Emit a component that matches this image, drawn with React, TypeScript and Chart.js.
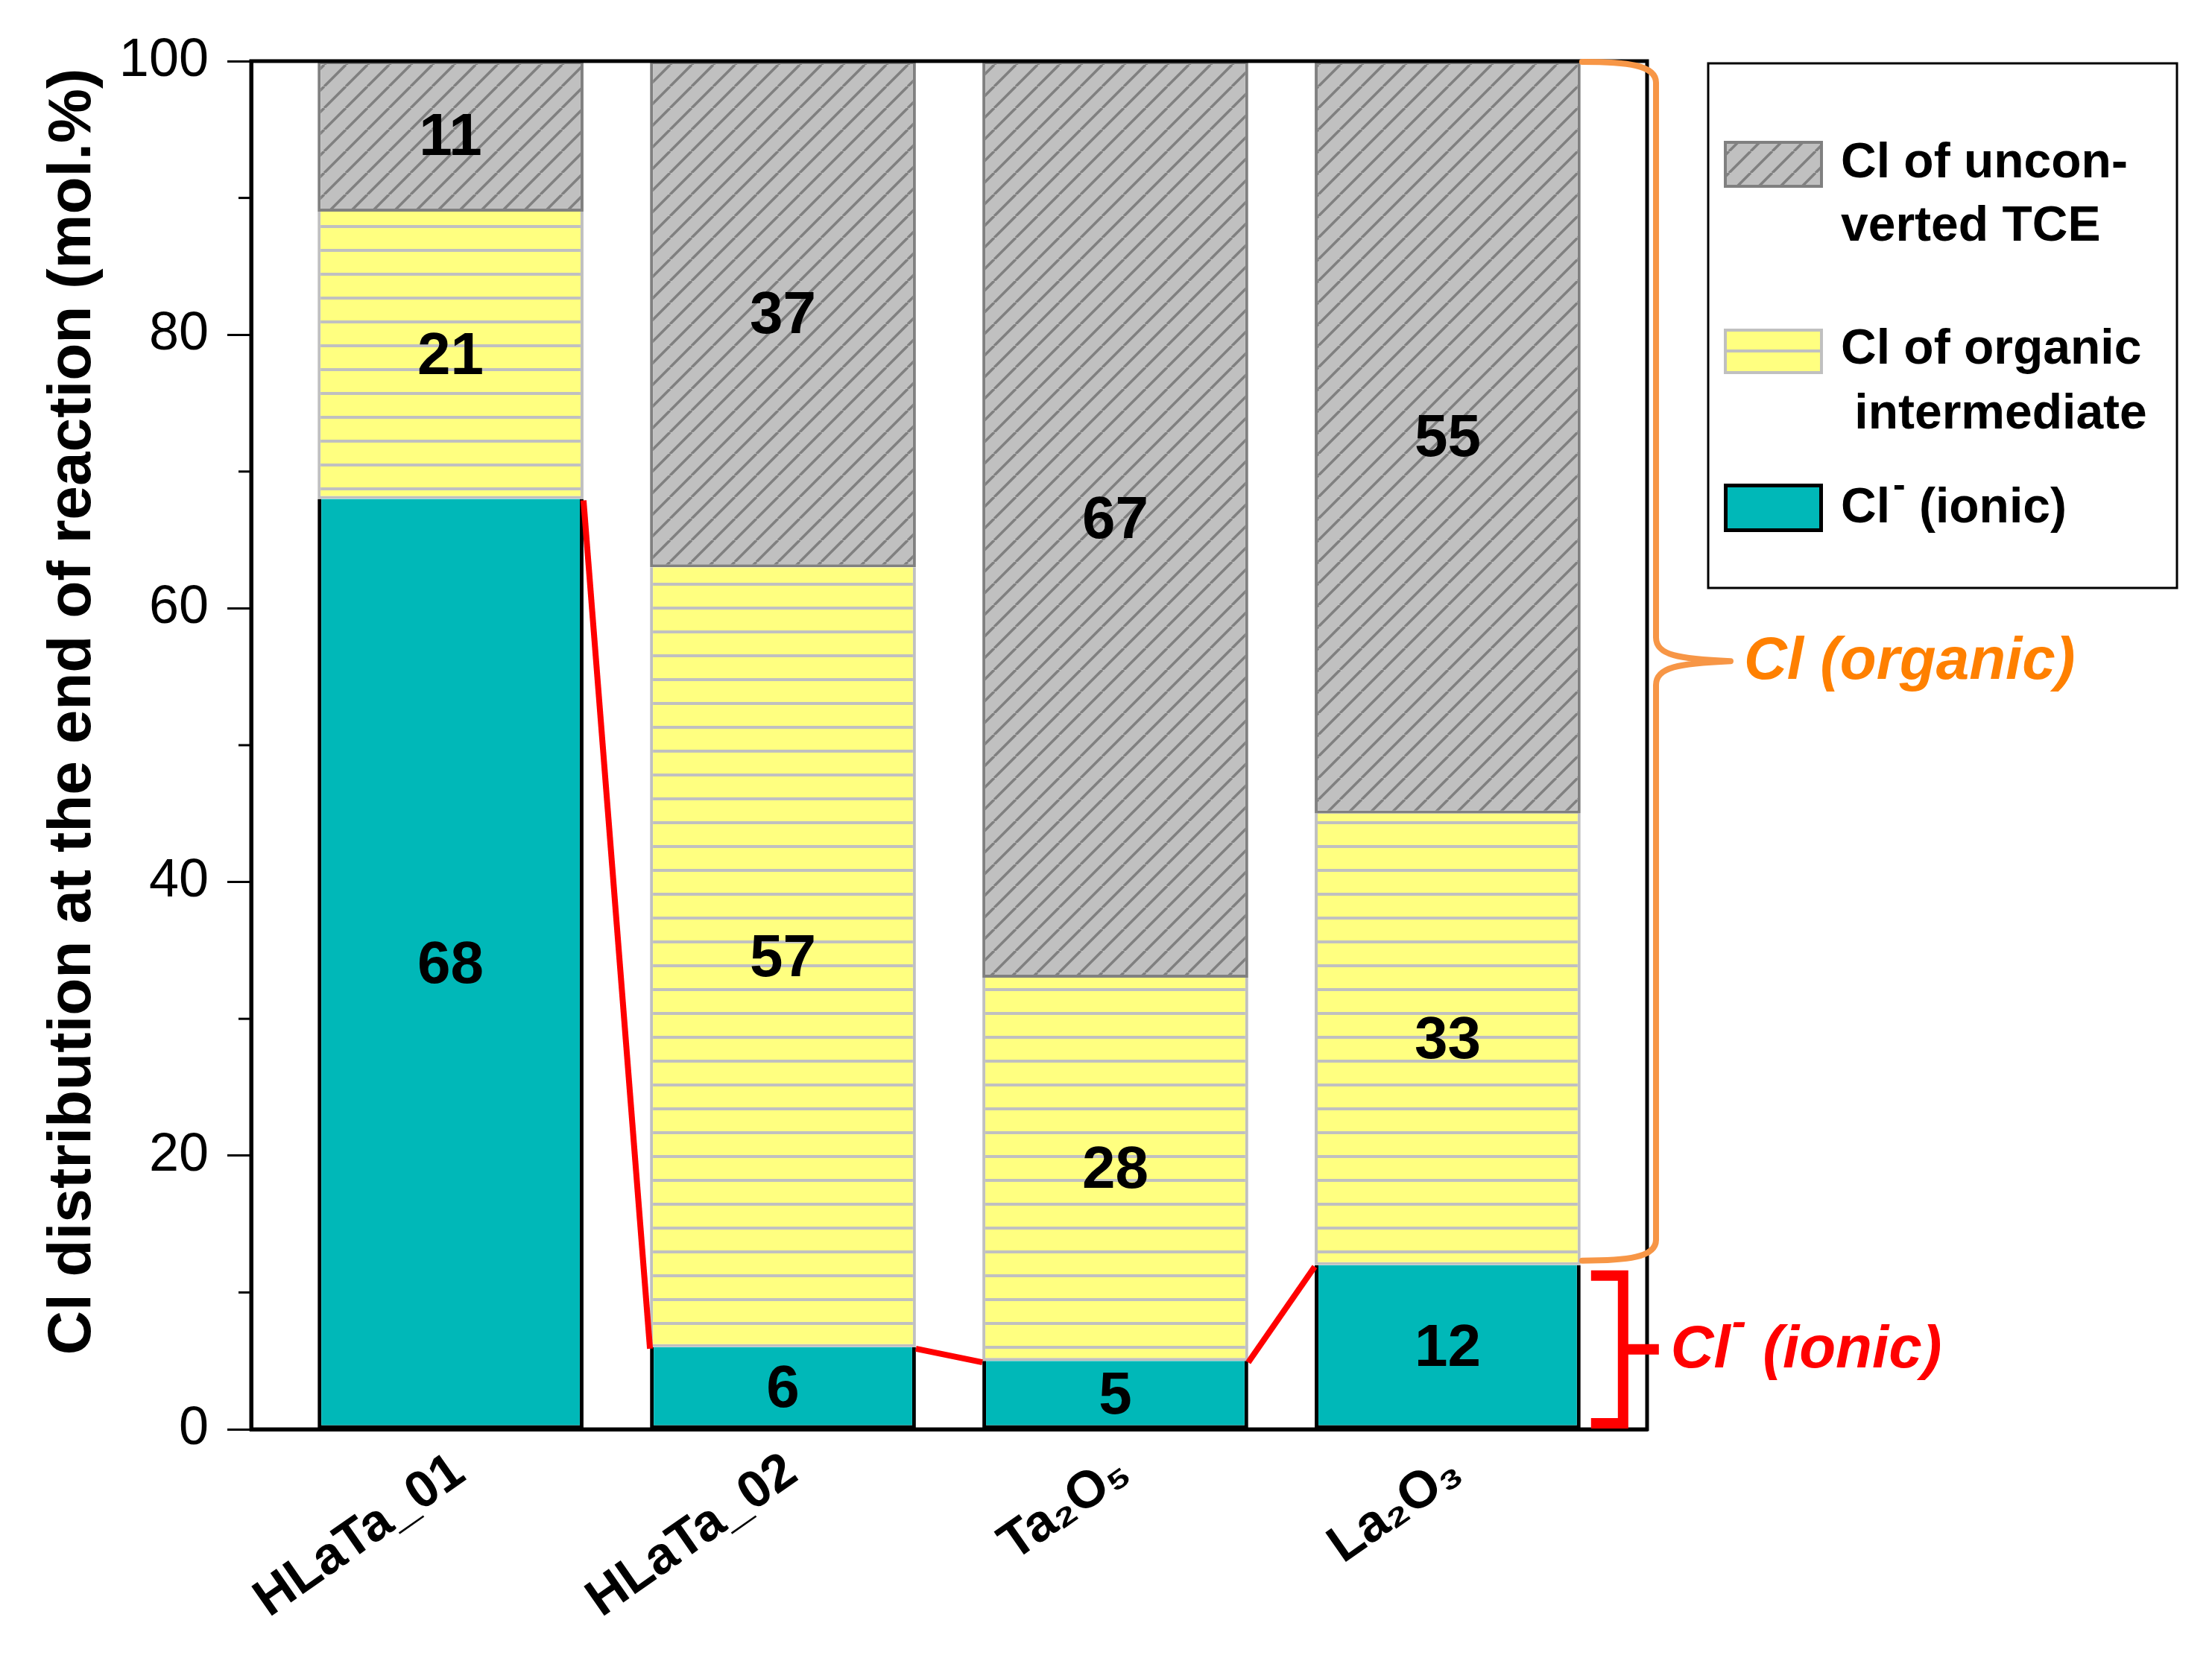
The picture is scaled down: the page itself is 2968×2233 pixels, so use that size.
import React, { useEffect, useRef } from 'react';
import { Chart, registerables } from 'chart.js';

Chart.register(...registerables);

// ---------------- data ----------------
const categories = ['HLaTa_01', 'HLaTa_02', 'Ta₂O₅', 'La₂O₃'];
const ionicCl = [68, 6, 5, 12];
const organicIntermediateCl = [21, 57, 28, 33];
const unconvertedTceCl = [11, 37, 67, 55];
const seriesLabels = ['Cl- (ionic)', 'Cl of organic intermediate', 'Cl of unconverted TCE'];
const yMin = 0;
const yMax = 100;
const yMajorStep = 20;
const yMinorStep = 10;
const yTitle = 'Cl distribution at the end of reaction (mol.%)';
const legendUnconvertedLines = ['Cl of uncon-', 'verted TCE'];
const legendOrganicLines = ['Cl of organic', ' intermediate'];
const legendIonicBase = 'Cl';
const legendIonicSup = '-';
const legendIonicRest = ' (ionic)';
const braceOrganicText = 'Cl (organic)';
const bracketIonicBase = 'Cl';
const bracketIonicSup = '-';
const bracketIonicRest = ' (ionic)';

// ---------------- style ----------------
const W = 2968;
const H = 2233;
const FONT = '"Liberation Sans", Arial, Helvetica, sans-serif';
const TEAL = '#00B8B8';
const YELLOW = '#FFFF80';
const LIGHT_GRAY = '#C0C0C0';
const MID_GRAY = '#808080';
const RED = '#FF0000';
const ORANGE_BRACE = '#F79646';
const ORANGE_TEXT = '#FF8000';

function makeDiagonalPattern(): CanvasPattern | string {
  const s = 29;
  const c = document.createElement('canvas');
  c.width = s;
  c.height = s;
  const g = c.getContext('2d');
  if (!g) return LIGHT_GRAY;
  g.fillStyle = LIGHT_GRAY;
  g.fillRect(0, 0, s, s);
  g.strokeStyle = MID_GRAY;
  g.lineWidth = 3.6;
  g.beginPath();
  for (let k = -1; k <= 1; k++) {
    g.moveTo(k * s, s);
    g.lineTo(k * s + s, 0);
  }
  g.stroke();
  const p = g.createPattern(c, 'repeat');
  return p || LIGHT_GRAY;
}

function makeHorizontalPattern(): CanvasPattern | string {
  const w = 8;
  const h = 32;
  const c = document.createElement('canvas');
  c.width = w;
  c.height = h;
  const g = c.getContext('2d');
  if (!g) return YELLOW;
  g.fillStyle = YELLOW;
  g.fillRect(0, 0, w, h);
  g.fillStyle = LIGHT_GRAY;
  g.fillRect(0, 14, w, 4);
  const p = g.createPattern(c, 'repeat');
  return p || YELLOW;
}

function drawSupText(
  ctx: CanvasRenderingContext2D,
  x: number,
  y: number,
  base: string,
  sup: string,
  rest: string,
  font: string,
  supFont: string,
  rise: number,
  supGap: number
) {
  ctx.textAlign = 'left';
  ctx.textBaseline = 'middle';
  ctx.font = font;
  ctx.fillText(base, x, y);
  let w = ctx.measureText(base).width + supGap;
  ctx.font = supFont;
  ctx.fillText(sup, x + w, y - rise);
  w += ctx.measureText(sup).width;
  ctx.font = font;
  ctx.fillText(rest, x + w, y);
}

const decorPlugin = {
  id: 'decor',
  beforeDraw(chart: any) {
    const ctx = chart.ctx as CanvasRenderingContext2D;
    ctx.save();
    ctx.fillStyle = '#ffffff';
    ctx.fillRect(0, 0, chart.width, chart.height);
    ctx.restore();
  },
  afterDraw(chart: any) {
    const ctx = chart.ctx as CanvasRenderingContext2D;
    const { left, right, top, bottom } = chart.chartArea;
    const ys = chart.scales.y;
    ctx.save();

    // y-axis title
    ctx.save();
    ctx.translate(98, (top + bottom) / 2 - 45);
    ctx.rotate(-Math.PI / 2);
    ctx.fillStyle = '#000';
    ctx.font = `bold 82px ${FONT}`;
    ctx.textAlign = 'center';
    ctx.textBaseline = 'middle';
    ctx.fillText(yTitle, 0, 0);
    ctx.restore();

    // plot frame
    ctx.strokeStyle = '#000';
    ctx.lineWidth = 5;
    ctx.strokeRect(left, top, right - left, bottom - top);

    // minor ticks
    ctx.lineWidth = 3;
    for (let v = yMin + yMinorStep; v < yMax; v += yMajorStep) {
      const py = ys.getPixelForValue(v);
      ctx.beginPath();
      ctx.moveTo(left - 17, py);
      ctx.lineTo(left, py);
      ctx.stroke();
    }

    // red connectors between ionic tops
    const ionicMeta = chart.getDatasetMeta(0);
    ctx.strokeStyle = RED;
    ctx.lineWidth = 8;
    ctx.lineCap = 'butt';
    for (let i = 0; i < ionicMeta.data.length - 1; i++) {
      const a: any = ionicMeta.data[i];
      const b: any = ionicMeta.data[i + 1];
      ctx.beginPath();
      ctx.moveTo(a.x + a.width / 2, a.y + 2);
      ctx.lineTo(b.x - b.width / 2, b.y + 2);
      ctx.stroke();
    }

    // value labels
    ctx.fillStyle = '#000';
    ctx.font = `bold 80px ${FONT}`;
    ctx.textAlign = 'center';
    ctx.textBaseline = 'middle';
    const all = [ionicCl, organicIntermediateCl, unconvertedTceCl];
    all.forEach((vals, di) => {
      const meta = chart.getDatasetMeta(di);
      meta.data.forEach((el: any, j: number) => {
        ctx.fillText(String(vals[j]), el.x, (el.y + el.base) / 2 + 3);
      });
    });

    // orange curly brace over organic part of last bar
    const lastIdx = ionicCl.length - 1;
    const lastBar: any = ionicMeta.data[lastIdx];
    const xa = lastBar.x + lastBar.width / 2 + 2;
    const xv = right + 12;
    const xt = xv + 100;
    const yTop = ys.getPixelForValue(yMax) + 1;
    const yBot = ys.getPixelForValue(ionicCl[lastIdx]) - 6;
    const yMid = (yTop + yBot) / 2;
    ctx.strokeStyle = ORANGE_BRACE;
    ctx.lineWidth = 8;
    ctx.lineJoin = 'round';
    ctx.lineCap = 'round';
    ctx.beginPath();
    ctx.moveTo(xa, yTop);
    ctx.bezierCurveTo(xa + 60, yTop, xv, yTop + 4, xv, yTop + 28);
    ctx.lineTo(xv, yMid - 32);
    ctx.bezierCurveTo(xv, yMid - 8, xt - 70, yMid - 3, xt, yMid);
    ctx.bezierCurveTo(xt - 70, yMid + 3, xv, yMid + 8, xv, yMid + 32);
    ctx.lineTo(xv, yBot - 28);
    ctx.bezierCurveTo(xv, yBot - 4, xa + 60, yBot, xa, yBot);
    ctx.stroke();

    ctx.fillStyle = ORANGE_TEXT;
    ctx.font = `italic bold 80px ${FONT}`;
    ctx.textAlign = 'left';
    ctx.textBaseline = 'middle';
    ctx.fillText(braceOrganicText, xt + 18, yMid + 2);

    // red square bracket over ionic part of last bar
    const bxL = lastBar.x + lastBar.width / 2 + 14;
    const bxV = bxL + 43;
    const byT = ys.getPixelForValue(ionicCl[lastIdx]) + 14;
    const byB = ys.getPixelForValue(yMin) - 8;
    const byM = (byT + byB) / 2;
    ctx.strokeStyle = RED;
    ctx.lineWidth = 14;
    ctx.lineJoin = 'miter';
    ctx.lineCap = 'butt';
    ctx.beginPath();
    ctx.moveTo(bxL, byT);
    ctx.lineTo(bxV, byT);
    ctx.lineTo(bxV, byB);
    ctx.lineTo(bxL, byB);
    ctx.moveTo(bxV, byM);
    ctx.lineTo(bxV + 48, byM);
    ctx.stroke();

    ctx.fillStyle = RED;
    drawSupText(ctx, bxV + 64, byM + 2, bracketIonicBase, bracketIonicSup, bracketIonicRest,
      `italic bold 80px ${FONT}`, `italic bold 58px ${FONT}`, 36, 2);

    // legend
    const lx = right + 82;
    const ly = 85;
    const lw = 629;
    const lh = 704;
    ctx.fillStyle = '#fff';
    ctx.fillRect(lx, ly, lw, lh);
    ctx.strokeStyle = '#000';
    ctx.lineWidth = 3;
    ctx.strokeRect(lx, ly, lw, lh);

    const sx = lx + 21;
    const sw = 133;
    // swatch 1: hatched gray
    ctx.fillStyle = (chart.$grayPattern as any) || LIGHT_GRAY;
    ctx.fillRect(sx, 189, sw, 63);
    ctx.strokeStyle = MID_GRAY;
    ctx.lineWidth = 4;
    ctx.strokeRect(sx + 2, 191, sw - 4, 59);
    // swatch 2: yellow lined
    ctx.fillStyle = YELLOW;
    ctx.fillRect(sx, 441, sw, 61);
    ctx.fillStyle = LIGHT_GRAY;
    ctx.fillRect(sx, 469, sw, 4);
    ctx.strokeStyle = LIGHT_GRAY;
    ctx.strokeRect(sx + 2, 443, sw - 4, 57);
    // swatch 3: teal
    ctx.fillStyle = TEAL;
    ctx.fillRect(sx, 649, sw, 65);
    ctx.strokeStyle = '#000';
    ctx.lineWidth = 5;
    ctx.strokeRect(sx + 2.5, 651.5, sw - 5, 60);

    const tx = lx + 178;
    ctx.fillStyle = '#000';
    ctx.font = `bold 66px ${FONT}`;
    ctx.textAlign = 'left';
    ctx.textBaseline = 'middle';
    ctx.fillText(legendUnconvertedLines[0], tx, 220);
    ctx.fillText(legendUnconvertedLines[1], tx, 305);
    ctx.fillText(legendOrganicLines[0], tx, 470);
    ctx.fillText(legendOrganicLines[1], tx, 557);
    drawSupText(ctx, tx, 683, legendIonicBase, legendIonicSup, legendIonicRest,
      `bold 66px ${FONT}`, `bold 50px ${FONT}`, 30, 4);

    ctx.restore();
  },
};

export default function App() {
  const ref = useRef<HTMLCanvasElement>(null);

  useEffect(() => {
    const canvas = ref.current;
    if (!canvas) return;
    const grayPattern = makeDiagonalPattern();
    const yellowPattern = makeHorizontalPattern();

    const chart = new Chart(canvas, {
      type: 'bar',
      data: {
        datasets: [
          {
            label: seriesLabels[0],
            data: ionicCl.map((v, i) => ({ x: i, y: v })),
            backgroundColor: TEAL,
            borderColor: '#000',
            borderWidth: 5,
            borderSkipped: 'top',
          },
          {
            label: seriesLabels[1],
            data: organicIntermediateCl.map((v, i) => ({ x: i, y: v })),
            backgroundColor: yellowPattern as any,
            borderColor: LIGHT_GRAY,
            borderWidth: 4,
            borderSkipped: 'top',
          },
          {
            label: seriesLabels[2],
            data: unconvertedTceCl.map((v, i) => ({ x: i, y: v })),
            backgroundColor: grayPattern as any,
            borderColor: MID_GRAY,
            borderWidth: 4,
            borderSkipped: false,
          },
        ] as any,
      },
      options: {
        responsive: false,
        animation: false,
        devicePixelRatio: 1,
        layout: { padding: { left: 0, top: 82, right: 758, bottom: 0 } },
        datasets: { bar: { barPercentage: 0.8, categoryPercentage: 1 } } as any,
        plugins: {
          legend: { display: false },
          tooltip: { enabled: false },
        },
        scales: {
          x: {
            type: 'linear',
            stacked: true,
            min: -0.6,
            max: 3.6,
            offset: false,
            grid: { display: false, drawTicks: false },
            border: { display: true, width: 5, color: '#000' },
            ticks: {
              stepSize: 1,
              includeBounds: false,
              autoSkip: false,
              maxRotation: 35,
              minRotation: 35,
              padding: 16,
              labelOffset: 12,
              color: '#000',
              font: { family: FONT, size: 70, weight: 'bold' },
              callback: (v: any) => (categories[v as number] !== undefined ? categories[v as number] : ''),
            },
            afterFit: (s: any) => {
              s.height = 315;
            },
          } as any,
          y: {
            stacked: true,
            min: yMin,
            max: yMax,
            grid: {
              drawOnChartArea: false,
              drawTicks: true,
              tickLength: 32,
              tickWidth: 3,
              tickColor: (c: any) => (c.tick && c.tick.value % yMajorStep === 0 ? '#000' : 'rgba(0,0,0,0)'),
            },
            border: { display: true, width: 5, color: '#000' },
            ticks: {
              stepSize: yMinorStep,
              padding: 25,
              color: '#000',
              font: { family: FONT, size: 72 },
              callback: (v: any) => ((v as number) % yMajorStep === 0 ? String(v) : ''),
            },
            title: { display: false, text: yTitle },
            afterFit: (s: any) => {
              s.width = 337;
            },
          } as any,
        },
      },
      plugins: [decorPlugin as any],
    });
    (chart as any).$grayPattern = grayPattern;
    chart.draw();

    return () => {
      chart.destroy();
    };
  }, []);

  return (
    <div style={{ position: 'fixed', left: 0, top: 0, width: W, height: H, background: '#fff' }}>
      <canvas ref={ref} width={W} height={H} style={{ display: 'block', width: W, height: H }} />
    </div>
  );
}
